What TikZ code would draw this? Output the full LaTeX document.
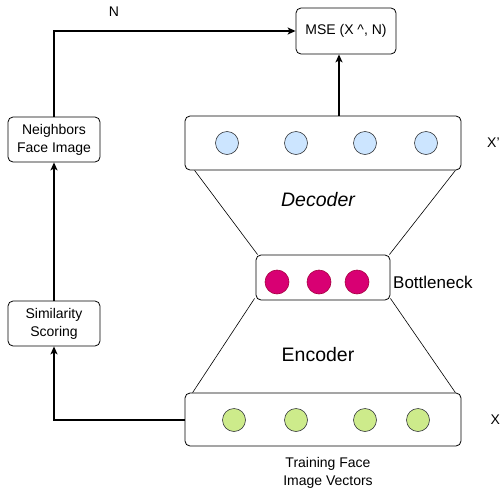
\documentclass[tikz,border=0pt]{standalone}
\usepackage{fontspec}
\setmainfont{Liberation Sans}
\usetikzlibrary{calc,arrows.meta}
\definecolor{cblue}{HTML}{CCE5FF}
\definecolor{cgreen}{HTML}{CDEB8B}
\definecolor{cmag}{HTML}{D80073}
\definecolor{cmagd}{HTML}{A50040}
\definecolor{cgray}{HTML}{36393D}
\begin{document}
\begin{tikzpicture}[x=1pt,y=-1pt,
  box/.style={draw=black,rounded corners=5pt,line width=0.8pt,inner sep=0pt,align=center,font=\fontsize{14}{18}\selectfont},
  conn/.style={line width=2pt,-{Stealth[length=8pt,width=7pt,inset=2pt]}},
  trap/.style={line width=0.6pt},
  blue/.style={circle,draw=cgray,line width=0.6pt,fill=cblue,minimum size=23pt,inner sep=0pt},
  green/.style={circle,draw=cgray,line width=0.6pt,fill=cgreen,minimum size=23pt,inner sep=0pt},
  mag/.style={circle,draw=cmagd,line width=0.6pt,fill=cmag,minimum size=24pt,inner sep=0pt},
  lbl/.style={font=\fontsize{14}{16}\selectfont,inner sep=0pt}
]
\useasboundingbox (0,0) rectangle (501,493);
% boxes
\node[box,minimum width=100pt,minimum height=46pt] (mse) at (346,31) {MSE (X \textasciicircum, N)};
\node[box,minimum width=92pt,minimum height=45pt] (nb) at (54,139.5) {Neighbors\\Face Image};
\node[box,minimum width=92pt,minimum height=45pt] (sim) at (54,323.5) {Similarity\\Scoring};
\node[box,minimum width=276pt,minimum height=54pt] (dec) at (323,143) {};
\node[box,minimum width=134pt,minimum height=45pt] (bot) at (323,277.5) {};
\node[box,minimum width=276pt,minimum height=53pt] (enc) at (323,419.5) {};
% circles
\node[blue] (d1) at (227,143) {};
\node[blue] (d2) at (296,143) {};
\node[blue] (d3) at (365,143) {};
\node[blue] (d4) at (426,143) {};
\node[mag] (b1) at (277,282) {};
\node[mag] (b2) at (319,282) {};
\node[mag] (b3) at (357,282) {};
\node[green] (e1) at (234,420) {};
\node[green] (e2) at (296,420) {};
\node[green] (e3) at (365,420) {};
\node[green] (e4) at (418,420) {};
% trapezoids
\draw[trap] ($(dec.south west)+(10,0)$) -- ($(bot.north west)+(2,0)$);
\draw[trap] ($(dec.south east)+(-6,0)$) -- ($(bot.north east)+(-1,0)$);
\draw[trap] ($(bot.south west)+(-1,-2)$) -- ($(enc.north west)+(8,0)$);
\draw[trap] ($(bot.south east)+(0,-2)$) -- ($(enc.north east)+(-6,0)$);
% labels
\node[font=\fontsize{19.5}{22}\selectfont\itshape,inner sep=0pt] (dlab) at (318,200) {Decoder};
\node[font=\fontsize{19.5}{22}\selectfont,inner sep=0pt] (elab) at (318,355) {Encoder};
\node[font=\fontsize{17}{20}\selectfont,inner sep=0pt,anchor=west] (blab) at (393,282) {Bottleneck};
\node[lbl,anchor=west] (xp) at (487,143) {X'};
\node[lbl,anchor=west] (x) at (490.5,420) {X};
\node[lbl] (n) at (114,12) {N};
\node[align=center,font=\fontsize{14}{18}\selectfont,inner sep=0pt] (tr) at (328,473) {Training Face\\Image Vectors};
% connectors
\coordinate (ax) at (339,0);
\draw[conn] (dec.north -| ax) -- (mse.south -| ax);
\draw[conn] (nb.north) |- (mse.west);
\draw[conn] (enc.west) -| (sim.south);
\draw[conn] (sim.north) -- (nb.south);
\end{tikzpicture}
\end{document}
